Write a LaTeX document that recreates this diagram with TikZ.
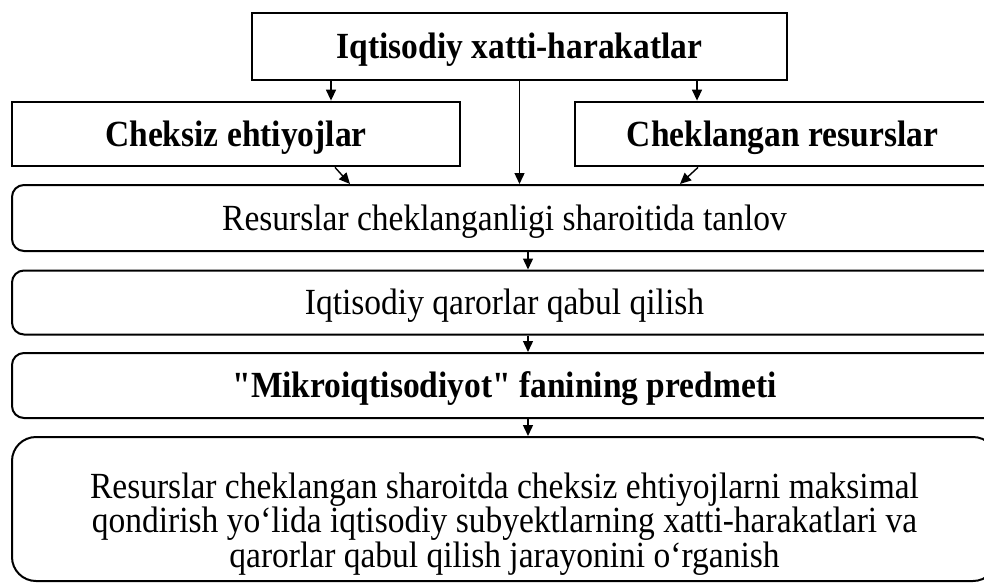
\documentclass[tikz,border=0pt]{standalone}
\usepackage{fontspec}
\newfontfamily\lserif{Liberation Serif}
\usetikzlibrary{arrows.meta}
\begin{document}
\begin{tikzpicture}[x=1pt,y=-1pt,
  sqbox/.style={draw, line width=2.8pt, inner sep=0pt},
  rdbox/.style={draw, line width=2pt, rounded corners=12pt, inner sep=0pt},
  txt/.style={inner sep=0pt, yscale=1.1, text height=22.2pt, text depth=0pt, font=\lserif\fontsize{33.5}{30}\selectfont},
  btxt/.style={txt, font=\lserif\fontsize{33.5}{30}\bfseries},
  mtxt/.style={inner sep=0pt, yscale=1.1, align=center, font=\lserif\fontsize{33.5}{30}\selectfont},
  arr/.style={line width=1.4pt, -{Triangle[length=11pt,width=10pt]}}]
\useasboundingbox (0,0) rectangle (984,583);
\clip (0,0) rectangle (984,583);
\node[sqbox, minimum width=535pt, minimum height=67pt] (top) at (519.5,46.5) {};
\node[sqbox, minimum width=448pt, minimum height=64pt] (left) at (236,134) {};
\node[sqbox, minimum width=415pt, minimum height=64pt] (right) at (782.5,134) {};
\node[rdbox, minimum width=985pt, minimum height=66pt] (b3) at (504.5,218) {};
\node[rdbox, minimum width=985pt, minimum height=64pt] (b4) at (504.5,302.5) {};
\node[rdbox, minimum width=985pt, minimum height=65pt] (b5) at (504.5,385.5) {};
\node[rdbox, rounded corners=24pt, minimum width=985pt, minimum height=144pt] (b6) at (504.5,509) {};
\node[btxt] (ttop) at (top) {Iqtisodiy xatti-harakatlar};
\node[btxt] (tleft) at (left) {Cheksiz ehtiyojlar};
\node[btxt] (tright) at (right) {Cheklangan resurslar};
\node[txt] (t3) at (b3) {Resurslar cheklanganligi sharoitida tanlov};
\node[txt] (t4) at (b4) {Iqtisodiy qarorlar qabul qilish};
\node[btxt] (t5) at (b5) {"Mikroiqtisodiyot" fanining predmeti};
\node[mtxt] (t6) at ([yshift=-15pt]b6.center) {Resurslar cheklangan sharoitda cheksiz ehtiyojlarni maksimal\\qondirish yo‘lida iqtisodiy subyektlarning xatti-harakatlari va\\qarorlar qabul qilish jarayonini o‘rganish};
\coordinate (xa) at (331,0);
\coordinate (xb) at (697,0);
\coordinate (xc) at (335,0);
\coordinate (xd) at (350,0);
\coordinate (xe) at (698,0);
\coordinate (xf) at (680,0);
\coordinate (xm) at (528,0);
\draw[arr] (top.south -| xa) -- (left.north -| xa);
\draw[arr] (top.south -| xb) -- (right.north -| xb);
\draw[arr] (top.south) -- (top.south |- b3.north);
\draw[arr] (left.south -| xc) -- (b3.north -| xd);
\draw[arr] (right.south -| xe) -- (b3.north -| xf);
\draw[arr] (b3.south -| xm) -- (b4.north -| xm);
\draw[arr] (b4.south -| xm) -- (b5.north -| xm);
\draw[arr] (b5.south -| xm) -- (b6.north -| xm);
\end{tikzpicture}
\end{document}
